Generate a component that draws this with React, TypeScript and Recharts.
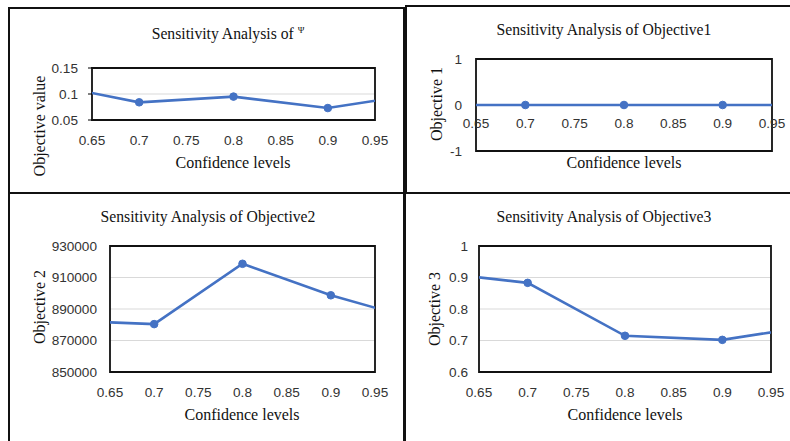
import React from "react";
import {
  LineChart,
  Line,
  XAxis,
  YAxis,
  CartesianGrid,
  ReferenceArea,
} from "recharts";

// confidence levels (end points sit outside the visible axis and get clipped)
const confidence = [0.6, 0.7, 0.8, 0.9, 1.0];
const psiValues = [0.12, 0.084, 0.095, 0.073, 0.101];
const objective1 = [0, 0, 0, 0, 0];
const objective2 = [882600, 880400, 918700, 898700, 882900];
const objective3 = [0.918, 0.883, 0.715, 0.702, 0.75];

const xTicks = [0.65, 0.7, 0.75, 0.8, 0.85, 0.9, 0.95];
const psiTicks = [0.05, 0.1, 0.15];
const obj1Ticks = [-1, 0, 1];
const obj2Ticks = [850000, 870000, 890000, 910000, 930000];
const obj3Ticks = [0.6, 0.7, 0.8, 0.9, 1];

const BLUE = "#4472C4";
const SERIF = "'Liberation Serif', 'Times New Roman', serif";
const SANS = "'Liberation Sans', Arial, sans-serif";
const tickStyle = { fontSize: 13.6, fill: "#333", fontFamily: SANS };

const toRows = (values: number[]) =>
  confidence.map((c, i) => ({ c, value: values[i] }));

interface PanelProps {
  left: number;
  top: number;
  width: number;
  height: number;
  plot: { left: number; right: number; top: number; bottom: number };
  values: number[];
  yTicks: number[];
  yTickGap: number;
  yTickSize?: number;
  xTickMargin: number;
}

function Panel({
  left,
  top,
  width,
  height,
  plot,
  values,
  yTicks,
  yTickGap,
  yTickSize = 0,
  xTickMargin,
}: PanelProps) {
  const yMin = yTicks[0];
  const yMax = yTicks[yTicks.length - 1];
  return (
    <div style={{ position: "absolute", left, top }}>
      <LineChart
        width={width}
        height={height}
        data={toRows(values)}
        margin={{ top: plot.top, right: width - plot.right, bottom: 0, left: 0 }}
      >
        <CartesianGrid vertical={false} stroke="#d9d9d9" />
        <XAxis
          dataKey="c"
          type="number"
          domain={[0.65, 0.95]}
          ticks={xTicks}
          allowDataOverflow
          axisLine={false}
          tickLine={false}
          tickSize={0}
          tickMargin={xTickMargin}
          height={height - plot.bottom}
          tick={tickStyle}
          interval={0}
        />
        <YAxis
          type="number"
          domain={[yMin, yMax]}
          ticks={yTicks}
          width={plot.left}
          axisLine={false}
          tickLine={yTickSize > 0 ? { stroke: "#000" } : false}
          tickSize={yTickSize}
          tickMargin={yTickGap}
          tick={tickStyle}
          interval={0}
        />
        <ReferenceArea
          x1={0.65}
          x2={0.95}
          y1={yMin}
          y2={yMax}
          stroke="#111"
          strokeWidth={1.8}
          fill="none"
          fillOpacity={0}
        />
        <Line
          dataKey="value"
          stroke={BLUE}
          strokeWidth={2.6}
          dot={{ r: 3.8, fill: BLUE, stroke: BLUE, strokeWidth: 1 }}
          isAnimationActive={false}
        />
      </LineChart>
    </div>
  );
}

function Txt({
  x,
  y,
  size = 16,
  rotate = false,
  children,
}: {
  x: number;
  y: number;
  size?: number;
  rotate?: boolean;
  children: React.ReactNode;
}) {
  return (
    <div
      style={{
        position: "absolute",
        left: x,
        top: y,
        transform: `translate(-50%, -50%)${rotate ? " rotate(-90deg)" : ""}`,
        fontFamily: SERIF,
        fontSize: size,
        color: "#111",
        whiteSpace: "nowrap",
        lineHeight: 1,
      }}
    >
      {children}
    </div>
  );
}

function Box({ left, top, width, height }: { left: number; top: number; width: number; height: number }) {
  return (
    <div
      style={{
        position: "absolute",
        left,
        top,
        width,
        height,
        border: "2px solid #111",
        boxSizing: "border-box",
      }}
    />
  );
}

export default function App() {
  return (
    <div
      style={{
        position: "fixed",
        left: 0,
        top: 0,
        width: 790,
        height: 441,
        background: "#fff",
        overflow: "hidden",
      }}
    >
      <Box left={8} top={7} width={397} height={187} />
      <Box left={405} top={5} width={400} height={189} />
      <Box left={8} top={192} width={397} height={300} />
      <Box left={404} top={192} width={400} height={300} />

      {/* top left: psi */}
      <Panel
        left={10}
        top={9}
        width={390}
        height={182}
        plot={{ left: 82, right: 365, top: 59, bottom: 111 }}
        values={psiValues}
        yTicks={psiTicks}
        yTickGap={10}
        yTickSize={4}
        xTickMargin={15}
      />
      <Txt x={228} y={34} size={15.7}>
        Sensitivity Analysis of{" "}
        <span style={{ fontSize: 9, verticalAlign: "6px" }}>Ψ</span>
      </Txt>
      <Txt x={233} y={163}>Confidence levels</Txt>
      <Txt x={40} y={126} rotate>Objective value</Txt>

      {/* top right: objective 1 */}
      <Panel
        left={408}
        top={7}
        width={380}
        height={184}
        plot={{ left: 68, right: 364, top: 52, bottom: 144 }}
        values={objective1}
        yTicks={obj1Ticks}
        yTickGap={14}
        xTickMargin={-33}
      />
      <Txt x={604} y={30} size={15.7}>Sensitivity Analysis of Objective1</Txt>
      <Txt x={624} y={163}>Confidence levels</Txt>
      <Txt x={437} y={104} rotate>Objective 1</Txt>

      {/* bottom left: objective 2 */}
      <Panel
        left={10}
        top={195}
        width={392}
        height={244}
        plot={{ left: 100, right: 365, top: 51, bottom: 177 }}
        values={objective2}
        yTicks={obj2Ticks}
        yTickGap={13}
        xTickMargin={15}
      />
      <Txt x={208} y={217} size={15.7}>Sensitivity Analysis of Objective2</Txt>
      <Txt x={242} y={415}>Confidence levels</Txt>
      <Txt x={40} y={307} rotate>Objective 2</Txt>

      {/* bottom right: objective 3 */}
      <Panel
        left={407}
        top={195}
        width={381}
        height={244}
        plot={{ left: 72, right: 364, top: 51, bottom: 177 }}
        values={objective3}
        yTicks={obj3Ticks}
        yTickGap={11}
        xTickMargin={15}
      />
      <Txt x={604} y={217} size={15.7}>Sensitivity Analysis of Objective3</Txt>
      <Txt x={625} y={415}>Confidence levels</Txt>
      <Txt x={435} y={309} rotate>Objective 3</Txt>
    </div>
  );
}
